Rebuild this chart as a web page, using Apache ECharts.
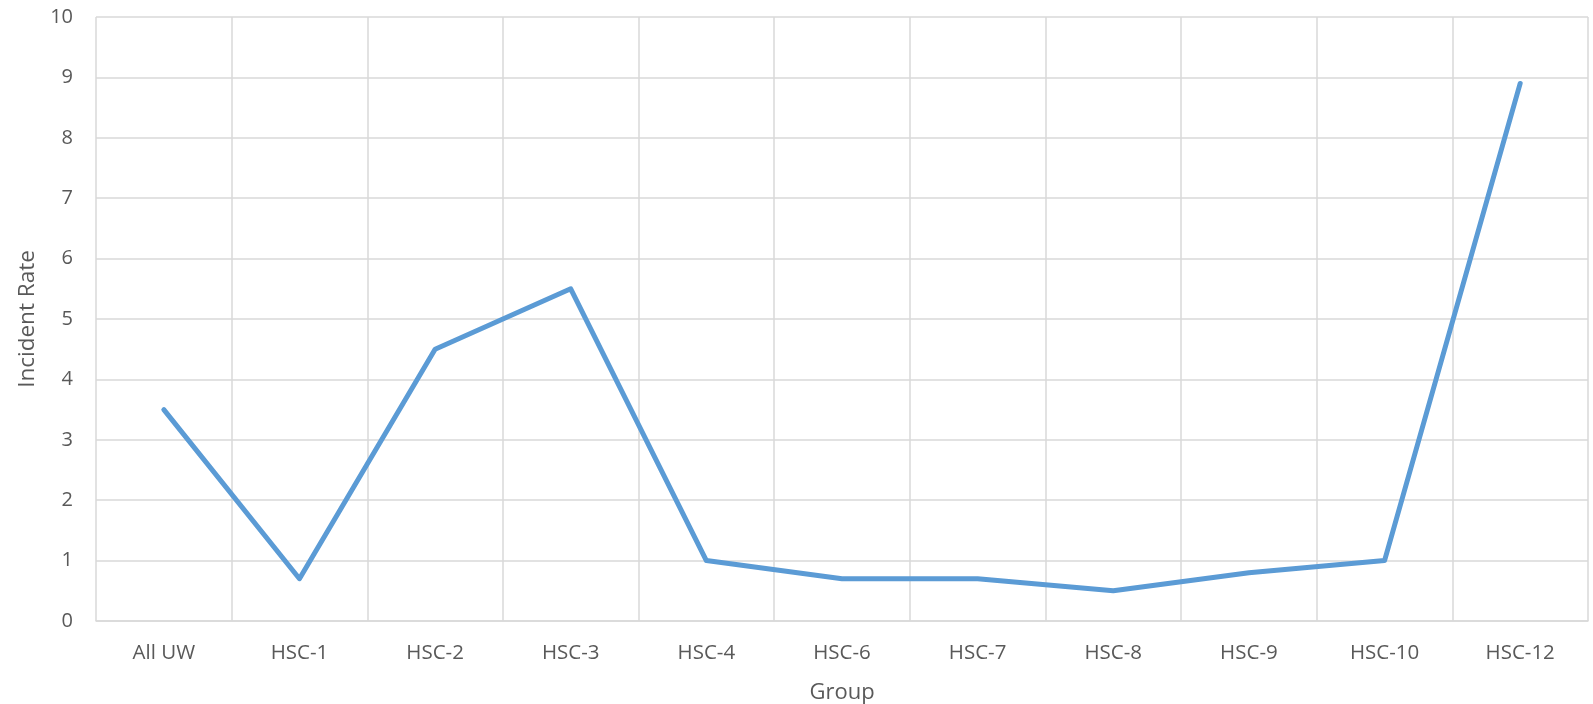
<!DOCTYPE html>
<html>
<head>
<meta charset="utf-8">
<script src="https://cdn.jsdelivr.net/npm/echarts@6/dist/echarts.min.js"></script>
<style>
html,body{margin:0;padding:0;background:#fff;}
#chart{width:1593px;height:704px;}
</style>
</head>
<body>
<div id="chart"></div>
<script>
const categories = ["All UW","HSC-1","HSC-2","HSC-3","HSC-4","HSC-6","HSC-7","HSC-8","HSC-9","HSC-10","HSC-12"];
const incidentRate = [3.5, 0.7, 4.5, 5.5, 1.0, 0.7, 0.7, 0.5, 0.8, 1.0, 8.9];
const xAxisTitle = "Group";
const yAxisTitle = "Incident Rate";

const font = "'Open Sans', 'Liberation Sans', sans-serif";
const textColor = "#595959";
const gridColor = "#d9d9d9";

const chart = echarts.init(document.getElementById('chart'));
chart.setOption({
  animation: false,
  backgroundColor: '#fff',
  grid: {left: 96, right: 5, top: 17, bottom: 83, containLabel: false, outerBoundsMode: 'none'},
  xAxis: {
    type: 'category',
    data: categories,
    boundaryGap: true,
    name: xAxisTitle,
    nameLocation: 'middle',
    nameGap: 61,
    nameTextStyle: {color: textColor, fontSize: 22, fontFamily: font},
    axisLine: {show: true, lineStyle: {color: gridColor, width: 1.5}},
    axisTick: {show: false},
    axisLabel: {color: textColor, fontSize: 20.5, fontFamily: font, margin: 22},
    splitLine: {show: true, interval: 0, lineStyle: {color: gridColor, width: 1.5}}
  },
  yAxis: {
    type: 'value',
    min: 0, max: 10, interval: 1,
    name: yAxisTitle,
    nameLocation: 'middle',
    nameGap: 57,
    nameRotate: 90,
    nameTextStyle: {color: textColor, fontSize: 22.5, fontFamily: font},
    axisLine: {show: false},
    axisTick: {show: false},
    axisLabel: {color: textColor, fontSize: 20, fontFamily: font, margin: 23},
    splitLine: {show: true, lineStyle: {color: gridColor, width: 1.5}}
  },
  series: [{
    type: 'line',
    data: incidentRate,
    symbol: 'none',
    lineStyle: {color: '#5b9bd5', width: 5, cap: 'round', join: 'round'}
  }]
});
</script>
</body>
</html>
